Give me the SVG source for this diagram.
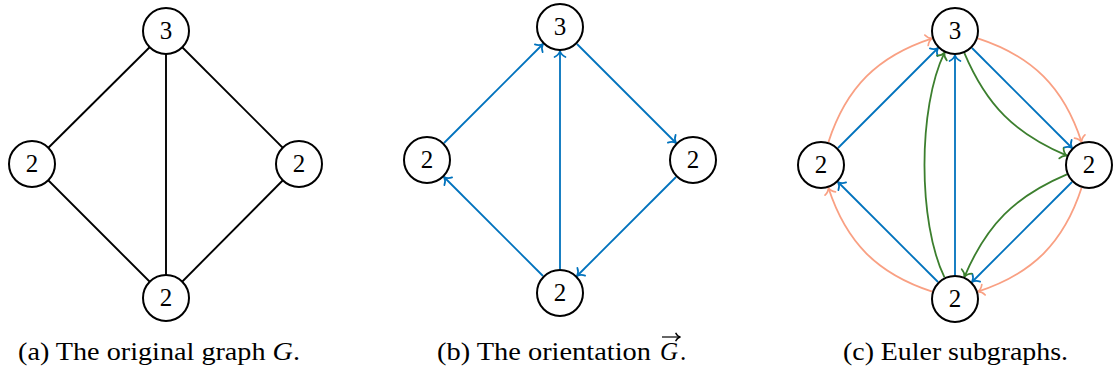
<svg xmlns="http://www.w3.org/2000/svg" width="1115" height="376" viewBox="0 0 1115 376">
<style>
.node circle{fill:#fff;stroke:#000;stroke-width:2}
text{font-family:"Liberation Serif","DejaVu Serif","Noto Serif","Times New Roman",serif;fill:#000}
.node text{font-size:25px;text-anchor:middle}
.cap{font-size:25px}
.e{fill:none;stroke-width:1.8}
.k{stroke:#000;stroke-width:1.9}
.b{stroke:#0072BD;marker-end:url(#ab)}
.s{stroke:#F9A083;marker-end:url(#as)}
.g{stroke:#3C7F2E;marker-end:url(#ag)}
.tip{fill:none;stroke-width:1.7;stroke-linecap:round;stroke-linejoin:round}
</style>
<defs>
<marker id="ab" markerUnits="userSpaceOnUse" viewBox="-8 -7 10 14" markerWidth="10" markerHeight="14" refX="0" refY="0" orient="auto" overflow="visible"><path class="tip" stroke="#0072BD" d="M-6,-5.5 C-4.5,-2.2 -1.7,-0.5 0,0 C-1.7,0.5 -4.5,2.2 -6,5.5"/></marker>
<marker id="as" markerUnits="userSpaceOnUse" viewBox="-8 -7 10 14" markerWidth="10" markerHeight="14" refX="0" refY="0" orient="auto" overflow="visible"><path class="tip" stroke="#F9A083" d="M-6,-5.5 C-4.5,-2.2 -1.7,-0.5 0,0 C-1.7,0.5 -4.5,2.2 -6,5.5"/></marker>
<marker id="ag" markerUnits="userSpaceOnUse" viewBox="-8 -7 10 14" markerWidth="10" markerHeight="14" refX="0" refY="0" orient="auto" overflow="visible"><path class="tip" stroke="#3C7F2E" d="M-6,-5.5 C-4.5,-2.2 -1.7,-0.5 0,0 C-1.7,0.5 -4.5,2.2 -6,5.5"/></marker>
<marker id="ak" markerUnits="userSpaceOnUse" viewBox="-6 -5 8 10" markerWidth="8" markerHeight="10" refX="0" refY="0" orient="auto" overflow="visible"><path class="tip" stroke="#000" stroke-width="1.2" d="M-4,-3.5 C-3,-1.4 -1.2,-0.4 0,0 C-1.2,0.4 -3,1.4 -4,3.5"/></marker>
</defs>

<g id="connectors">
  <g id="edges-a">
    <path class="e k" d="M166,31 L32,164"/>
    <path class="e k" d="M166,31 L166,298"/>
    <path class="e k" d="M166,31 L299,164"/>
    <path class="e k" d="M32,164 L166,298"/>
    <path class="e k" d="M299,164 L166,298"/>
  </g>
  <g id="edges-b">
    <path class="e b" d="M444,143 L543,44"/>
    <path class="e b" d="M560,269 L560,51"/>
    <path class="e b" d="M577,44 L676,143"/>
    <path class="e b" d="M676,177 L577,276"/>
    <path class="e b" d="M543,276 L444,177"/>
  </g>
  <g id="edges-c">
    <path class="e s" d="M828.4,142.2 C846.2,87.5 877.5,56.2 932.2,38.4"/>
    <path class="e s" d="M977.8,38.4 C1032.5,56.2 1063.8,87.5 1081.6,142.2"/>
    <path class="e s" d="M1081.6,187.8 C1063.8,242.5 1032.5,273.8 977.8,291.6"/>
    <path class="e s" d="M932.2,291.6 C877.5,273.8 846.2,242.5 828.4,187.8"/>
    <path class="e b" d="M838,148 L938,48"/>
    <path class="e b" d="M955,275 L955,55"/>
    <path class="e b" d="M972,48 L1072,148"/>
    <path class="e b" d="M1072,182 L972,282"/>
    <path class="e b" d="M938,282 L838,182"/>
    <path class="e g" d="M964.4,53.1 C986.6,105.4 1014.6,133.4 1066.9,155.6"/>
    <path class="e g" d="M1066.9,174.4 C1014.6,196.6 986.6,224.6 964.4,276.9"/>
    <path class="e g" d="M944.5,277.4 C917.8,222.6 917.8,107.4 944.5,52.6"/>
  </g>
</g>

<g id="a-top" class="node"><circle cx="166" cy="31" r="23"/><text x="166" y="39">3</text></g>
<g id="a-left" class="node"><circle cx="32" cy="164" r="23"/><text x="32" y="172">2</text></g>
<g id="a-right" class="node"><circle cx="299" cy="164" r="23"/><text x="299" y="172">2</text></g>
<g id="a-bottom" class="node"><circle cx="166" cy="298" r="23"/><text x="166" y="306">2</text></g>

<g id="b-top" class="node"><circle cx="560" cy="27" r="23"/><text x="560" y="35">3</text></g>
<g id="b-left" class="node"><circle cx="427" cy="160" r="23"/><text x="427" y="168">2</text></g>
<g id="b-right" class="node"><circle cx="693" cy="160" r="23"/><text x="693" y="168">2</text></g>
<g id="b-bottom" class="node"><circle cx="560" cy="293" r="23"/><text x="560" y="301">2</text></g>

<g id="c-top" class="node"><circle cx="955" cy="31" r="23"/><text x="955" y="39">3</text></g>
<g id="c-left" class="node"><circle cx="821" cy="165" r="23"/><text x="821" y="173">2</text></g>
<g id="c-right" class="node"><circle cx="1089" cy="165" r="23"/><text x="1089" y="173">2</text></g>
<g id="c-bottom" class="node"><circle cx="955" cy="299" r="23"/><text x="955" y="307">2</text></g>

<g id="captions">
  <text class="cap" x="18" y="359.5" textLength="282" lengthAdjust="spacingAndGlyphs">(a) The original graph <tspan font-style="italic">G</tspan>.</text>
  <text class="cap" x="437" y="359.5" textLength="214" lengthAdjust="spacingAndGlyphs">(b) The orientation</text>
  <text class="cap" x="660" y="359.5" font-style="italic">G</text>
  <text class="cap" x="680" y="359.5">.</text>
  <path d="M662,337 L680,337" fill="none" stroke="#000" stroke-width="1.2" marker-end="url(#ak)"/>
  <text class="cap" x="843" y="359.5" textLength="225" lengthAdjust="spacingAndGlyphs">(c) Euler subgraphs.</text>
</g>
</svg>
